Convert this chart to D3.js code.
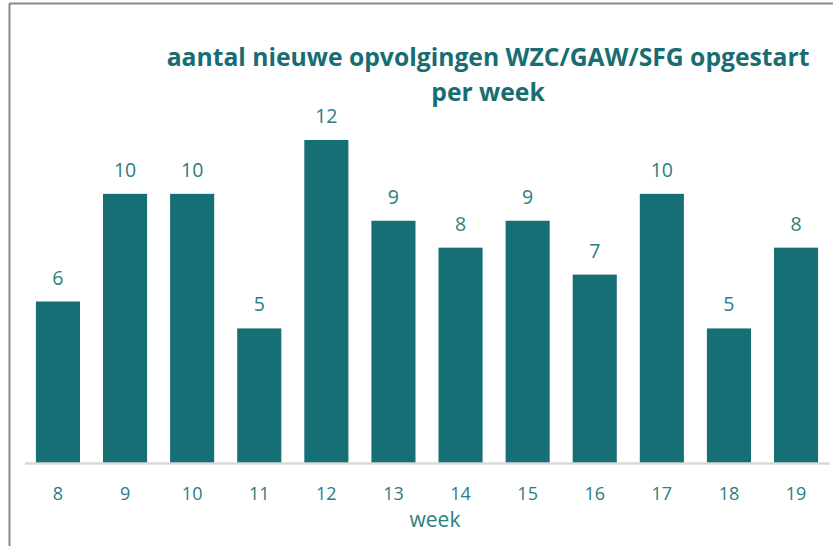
<!DOCTYPE html>
<html><head><meta charset="utf-8">
<script src="https://cdn.jsdelivr.net/npm/d3@7"></script>
<style>
html,body{margin:0;padding:0;background:#fff;}
svg{display:block;font-family:"Open Sans","Noto Sans",sans-serif;}
</style></head>
<body>
<svg id="chart" width="833" height="546"></svg>
<script>
const weeks = ["8","9","10","11","12","13","14","15","16","17","18","19"];
const counts = [6,10,10,5,12,9,8,9,7,10,5,8];
const titleLines = ["aantal nieuwe opvolgingen WZC/GAW/SFG opgestart","per week"];
const xTitle = "week";

const svg = d3.select("#chart");
const W = 833, H = 546;
svg.append("rect").attr("width",W).attr("height",H).attr("fill","#fff");
// frame
svg.append("line").attr("x1",9.5).attr("x2",9.5).attr("y1",3.5).attr("y2",H).attr("stroke","#8a8a8a").attr("stroke-width",2);
svg.append("line").attr("x1",9).attr("x2",W).attr("y1",3.5).attr("y2",3.5).attr("stroke","#8a8a8a").attr("stroke-width",2);

const left = 24.5, right = 829.5, base = 463;
const x = d3.scaleBand().domain(weeks).range([left,right]).paddingInner(0.343).paddingOuter(0.17);
const y = d3.scaleLinear().domain([0,12]).range([base,140]);

const barColor = "#156f75", textColor = "#2b7e82", titleColor = "#176d72";

svg.append("g").selectAll("rect").data(counts).join("rect")
  .attr("x",(d,i)=>x(weeks[i])).attr("width",x.bandwidth())
  .attr("y",d=>y(d)).attr("height",d=>base-y(d))
  .attr("fill",barColor);

const ax = svg.append("g").attr("transform",`translate(0,${base})`)
  .call(d3.axisBottom(x).tickSize(0).tickPadding(22));
ax.select(".domain").attr("stroke","#d9d9d9").attr("stroke-width",2.5);
ax.selectAll("text").attr("fill",textColor).attr("font-size",18).attr("font-family","'Open Sans',sans-serif")
  .attr("dy",null).attr("y",37);

svg.append("g").selectAll("text").data(counts).join("text")
  .attr("x",(d,i)=>x(weeks[i])+x.bandwidth()/2)
  .attr("y",d=>y(d)-17)
  .attr("text-anchor","middle").attr("fill",textColor).attr("font-size",19.5)
  .text(d=>d);

svg.append("text").attr("x",435).attr("y",527).attr("text-anchor","middle")
  .attr("fill",textColor).attr("font-size",21).text(xTitle);

const tg = svg.append("g").attr("fill",titleColor).attr("font-weight","bold").attr("text-anchor","middle");
const t1 = tg.append("text").attr("x",488).attr("y",66).attr("font-size",22).text(titleLines[0]);
// fit first line to reference width
const w1 = t1.node().getComputedTextLength();
const fs = 22*643/w1;
t1.attr("font-size",fs);
tg.append("text").attr("x",488).attr("y",101).attr("font-size",fs).text(titleLines[1]);
</script>
</body></html>
